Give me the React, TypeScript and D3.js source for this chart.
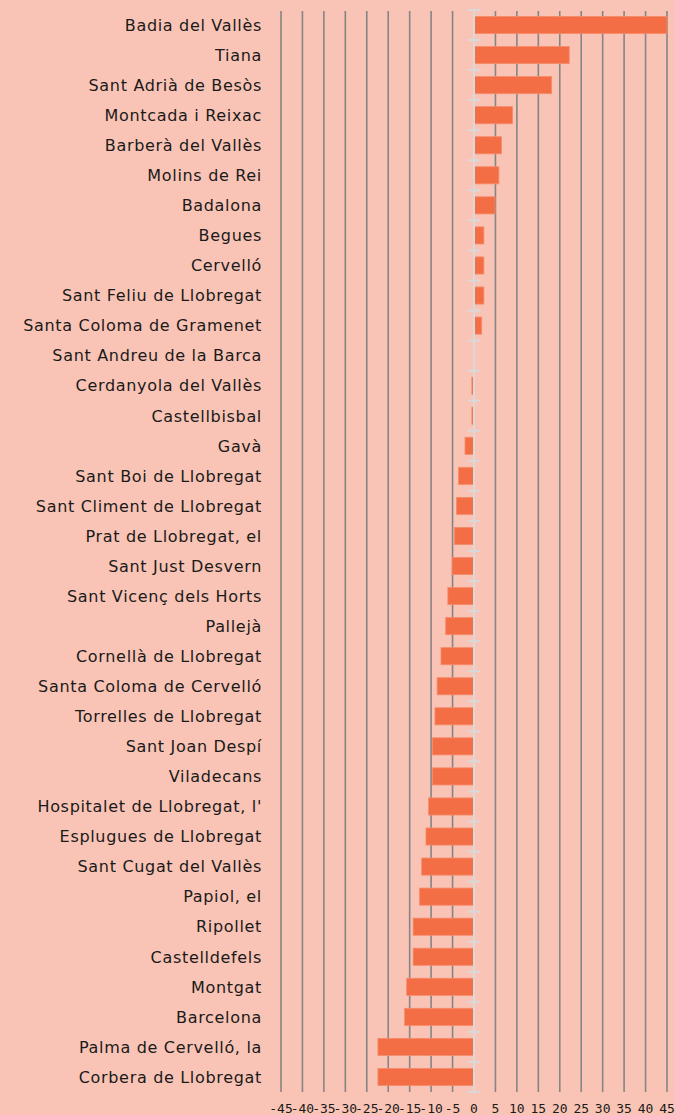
import React from "react";
import * as d3 from "d3";

const categories: string[] = [
  "Badia del Vallès",
  "Tiana",
  "Sant Adrià de Besòs",
  "Montcada i Reixac",
  "Barberà del Vallès",
  "Molins de Rei",
  "Badalona",
  "Begues",
  "Cervelló",
  "Sant Feliu de Llobregat",
  "Santa Coloma de Gramenet",
  "Sant Andreu de la Barca",
  "Cerdanyola del Vallès",
  "Castellbisbal",
  "Gavà",
  "Sant Boi de Llobregat",
  "Sant Climent de Llobregat",
  "Prat de Llobregat, el",
  "Sant Just Desvern",
  "Sant Vicenç dels Horts",
  "Pallejà",
  "Cornellà de Llobregat",
  "Santa Coloma de Cervelló",
  "Torrelles de Llobregat",
  "Sant Joan Despí",
  "Viladecans",
  "Hospitalet de Llobregat, l'",
  "Esplugues de Llobregat",
  "Sant Cugat del Vallès",
  "Papiol, el",
  "Ripollet",
  "Castelldefels",
  "Montgat",
  "Barcelona",
  "Palma de Cervelló, la",
  "Corbera de Llobregat",
];

const values: number[] = [
  45.0, 22.2, 18.1, 9.0, 6.4, 5.8, 4.9, 2.3, 2.3, 2.3, 1.8, 0, -0.5, -0.5,
  -2.1, -3.6, -4.1, -4.6, -5.1, -6.1, -6.6, -7.7, -8.6, -9.1, -9.7, -9.7,
  -10.6, -11.2, -12.2, -12.7, -14.2, -14.2, -15.7, -16.2, -22.4, -22.4,
];

const tickValues: number[] = [
  -45, -40, -35, -30, -25, -20, -15, -10, -5, 0, 5, 10, 15, 20, 25, 30, 35, 40, 45,
];

const W = 675;
const H = 1115;

export default function App() {
  const x = d3.scaleLinear().domain([-45, 45]).range([281, 667]);
  const y = d3
    .scaleBand<string>()
    .domain(categories)
    .range([10, 1092])
    .paddingInner(0.43)
    .paddingOuter(0.215);
  const step = y.step();
  const [y0, y1] = y.range();
  const boundaries = d3.range(categories.length + 1).map((i) => y0 + i * step);

  return (
    <svg
      width={W}
      height={H}
      style={{ position: "absolute", left: 0, top: 0, display: "block" }}
    >
      <rect x={0} y={0} width={W} height={H} fill="#F9C4B5" />
      {/* grid lines */}
      {tickValues
        .filter((t) => t !== 0)
        .map((t) => (
          <line
            key={"g" + t}
            x1={x(t)}
            x2={x(t)}
            y1={y0 + 1}
            y2={y1}
            stroke="#858585"
            strokeWidth={1.6}
          />
        ))}
      {/* bars */}
      {categories.map((c, i) => {
        const v = values[i];
        const bx = Math.min(x(0), x(v));
        const bw = Math.abs(x(v) - x(0));
        return (
          <rect
            key={"b" + c}
            x={bx}
            y={y(c)}
            width={bw}
            height={y.bandwidth()}
            fill="#F36E45"
            stroke="#F68C6C"
            strokeWidth={0.8}
          />
        );
      })}
      {/* zero axis */}
      <line
        x1={x(0)}
        x2={x(0)}
        y1={y0}
        y2={y1}
        stroke="#D9D9D9"
        strokeWidth={2}
      />
      {boundaries.map((b, i) => (
        <line
          key={"t" + i}
          x1={x(0) - 6.5}
          x2={x(0) + 6.5}
          y1={b}
          y2={b}
          stroke="#D9D9D9"
          strokeWidth={2}
        />
      ))}
      {/* category labels */}
      {categories.map((c) => (
        <text
          key={"l" + c}
          x={262}
          y={(y(c) as number) + y.bandwidth() / 2}
          dy="0.36em"
          textAnchor="end"
          fontFamily="'DejaVu Sans', sans-serif"
          fontSize={16}
          letterSpacing={0.68}
          fill="#1A1A1A"
        >
          {c}
        </text>
      ))}
      {/* x tick labels */}
      {tickValues.map((t) => (
        <text
          key={"x" + t}
          x={x(t)}
          y={1113}
          textAnchor="middle"
          fontFamily="'DejaVu Sans Mono', monospace"
          fontSize={13}
          fill="#1A1A1A"
        >
          {String(t)}
        </text>
      ))}
    </svg>
  );
}
